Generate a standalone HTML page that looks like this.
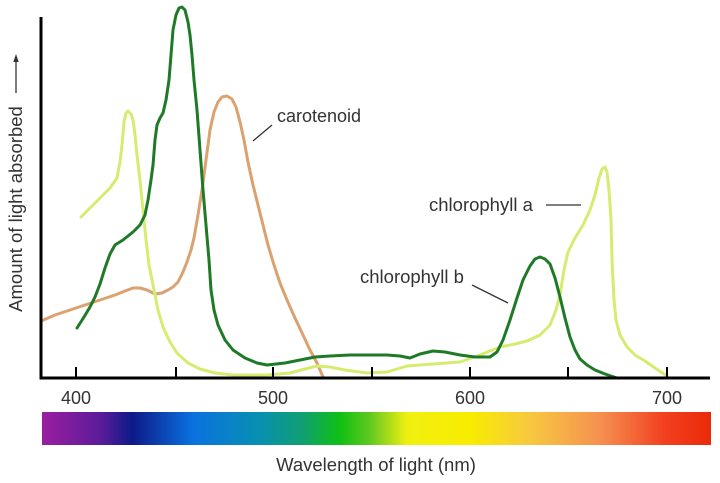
<!DOCTYPE html>
<html>
<head>
<meta charset="utf-8">
<style>
  html,body{margin:0;padding:0;background:#fff;}
  svg{display:block;}
  text{font-family:"Liberation Sans", Arial, sans-serif;fill:#333;}
</style>
</head>
<body>
<svg width="720" height="483" viewBox="0 0 720 483" xmlns="http://www.w3.org/2000/svg">
  <defs>
    <linearGradient id="spec" x1="0" y1="0" x2="1" y2="0">
      <stop offset="0" stop-color="#9a1ea0"/>
      <stop offset="0.087" stop-color="#5c1c9a"/>
      <stop offset="0.135" stop-color="#0c1a88"/>
      <stop offset="0.226" stop-color="#0a72e0"/>
      <stop offset="0.326" stop-color="#0890b0"/>
      <stop offset="0.39" stop-color="#10a070"/>
      <stop offset="0.446" stop-color="#10c012"/>
      <stop offset="0.49" stop-color="#60c820"/>
      <stop offset="0.546" stop-color="#f0f010"/>
      <stop offset="0.64" stop-color="#f8ec00"/>
      <stop offset="0.73" stop-color="#f7c840"/>
      <stop offset="0.835" stop-color="#f59050"/>
      <stop offset="0.93" stop-color="#f24020"/>
      <stop offset="1" stop-color="#ea2a08"/>
    </linearGradient>
  </defs>

  <!-- spectrum bar -->
  <rect x="42" y="412" width="669" height="33" fill="url(#spec)"/>

  <!-- carotenoid -->
  <polyline fill="none" stroke="#dba270" stroke-width="3" stroke-linejoin="round" stroke-linecap="round"
    points="41,321 55,315 70,310 85,305 100,300 115,295 125,291 133,288 140,288 147,290 155,294 162,293 168,290 173,287 178,282 183,272 187,262 191,250 194,238 198,215 202,190 206,160 210,130 214,112 218,102 222,97 227,96 232,99 236,107 240,122 244,140 248,162 253,185 258,205 263,225 268,245 274,265 280,283 287,300 295,318 303,335 310,350 317,363 323,377"/>

  <!-- chlorophyll a -->
  <polyline fill="none" stroke="#d6ec70" stroke-width="3" stroke-linejoin="round" stroke-linecap="round"
    points="81,217 90,208 100,198 110,188 117,178 120,162 122,145 124,122 126,113 128,111 131,114 133,120 135,135 137,155 140,180 143,210 146,240 149,265 153,285 158,310 163,327 170,342 177,353 188,363 200,369 215,373 233,375 267,375 290,373 305,369 317,366 330,367 345,370 367,373 387,372 407,366 433,364 460,362 480,355 500,347 515,344 527,341 540,335 550,325 556,310 560,295 564,270 568,252 575,238 583,225 590,210 595,195 599,178 602,169 605,167 607,172 609,190 611,220 612,260 614,300 616,320 620,335 627,347 635,355 645,361 655,368 667,376"/>

  <!-- chlorophyll b -->
  <polyline fill="none" stroke="#1f7a28" stroke-width="3" stroke-linejoin="round" stroke-linecap="round"
    points="77,328 84,317 90,307 95,297 100,284 105,268 110,254 115,245 123,240 133,232 140,225 145,215 148,200 151,180 153,165 155,140 157,125 160,118 163,113 166,100 169,80 171,55 173,30 176,15 179,8 182,7 185,10 188,22 190,35 192,55 194,80 197,110 200,150 203,190 206,225 209,260 211,290 214,310 218,325 225,340 233,350 245,358 257,363 267,365 285,363 300,360 315,357 330,356 350,355 370,355 387,355 400,356 410,358 420,354 433,351 445,352 460,355 475,357 490,357 497,352 503,340 510,320 517,298 523,280 530,266 535,259 540,257 545,259 550,264 555,278 560,297 565,318 570,337 575,350 580,359 587,365 595,370 605,374 617,378"/>

  <!-- axes -->
  <line x1="41" y1="17" x2="41" y2="379.5" stroke="#000" stroke-width="3"/>
  <line x1="39.5" y1="378" x2="710" y2="378" stroke="#000" stroke-width="3"/>
  <g stroke="#000" stroke-width="2">
    <line x1="76" y1="367" x2="76" y2="378"/>
    <line x1="176" y1="367" x2="176" y2="378"/>
    <line x1="273" y1="367" x2="273" y2="378"/>
    <line x1="372" y1="367" x2="372" y2="378"/>
    <line x1="470" y1="367" x2="470" y2="378"/>
    <line x1="568" y1="367" x2="568" y2="378"/>
    <line x1="667" y1="367" x2="667" y2="378"/>
  </g>

  <!-- tick labels -->
  <g font-size="18" text-anchor="middle">
    <text x="76" y="404">400</text>
    <text x="273" y="404">500</text>
    <text x="470" y="404">600</text>
    <text x="667" y="404">700</text>
  </g>

  <!-- axis titles -->
  <text x="376" y="471" font-size="18.5" text-anchor="middle">Wavelength of light (nm)</text>
  <text transform="translate(22,209) rotate(-90)" font-size="18.5" text-anchor="middle">Amount of light absorbed</text>
  <line x1="16" y1="93" x2="16" y2="60" stroke="#333" stroke-width="1.3"/>
  <polygon points="16,54 13.3,62 18.7,62" fill="#333"/>

  <!-- labels -->
  <text x="277" y="122" font-size="18">carotenoid</text>
  <line x1="253" y1="141" x2="272" y2="125" stroke="#333" stroke-width="1.3"/>

  <text x="429" y="211" font-size="18.5">chlorophyll a</text>
  <line x1="546" y1="205" x2="581" y2="205" stroke="#333" stroke-width="1.3"/>

  <text x="360" y="283" font-size="18.5">chlorophyll b</text>
  <line x1="472" y1="285" x2="508" y2="303" stroke="#333" stroke-width="1.3"/>
</svg>
</body>
</html>
